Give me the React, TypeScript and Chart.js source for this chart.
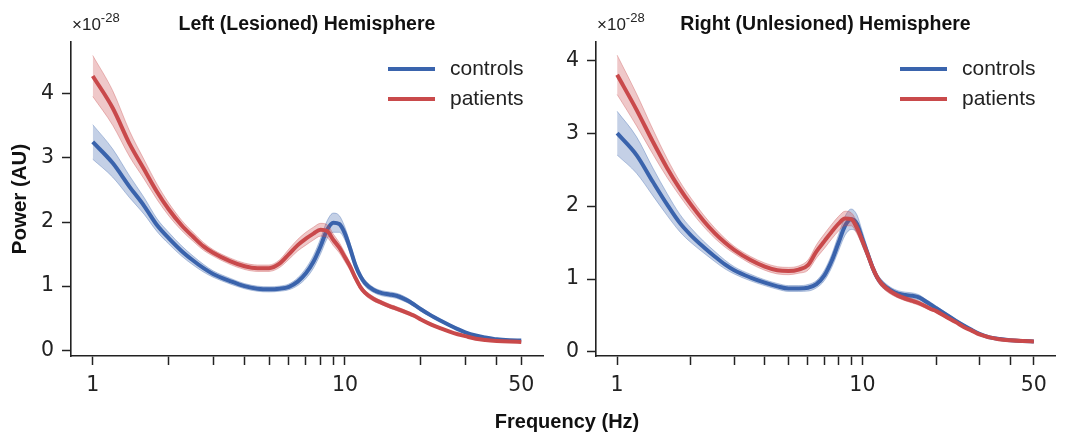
import React, { useEffect, useRef } from 'react';
import { Chart, registerables } from 'chart.js';

Chart.register(...registerables);

// ---------------- data ----------------
const FREQS = [1, 1.2, 1.4, 1.6, 1.8, 2, 2.25, 2.5, 2.75, 3, 3.5, 4, 4.5, 5, 5.5, 6, 6.5, 7, 7.5, 8, 8.5, 9, 9.5, 10, 10.5, 11, 11.5, 12, 13, 14, 15, 16, 17, 18, 19, 20, 22, 24, 26, 28, 30, 33, 36, 40, 45, 50];

const LEFT_CONTROLS = [3.25, 2.92, 2.55, 2.25, 1.95, 1.75, 1.55, 1.40, 1.28, 1.19, 1.08, 1.00, 0.96, 0.95, 0.96, 0.99, 1.07, 1.20, 1.38, 1.62, 1.88, 1.99, 1.97, 1.82, 1.58, 1.33, 1.16, 1.05, 0.94, 0.89, 0.87, 0.85, 0.81, 0.76, 0.70, 0.64, 0.54, 0.46, 0.39, 0.33, 0.28, 0.23, 0.20, 0.17, 0.155, 0.15];
const LEFT_CONTROLS_SEM = [0.27, 0.22, 0.17, 0.13, 0.10, 0.09, 0.08, 0.07, 0.06, 0.05, 0.045, 0.04, 0.04, 0.04, 0.04, 0.045, 0.06, 0.08, 0.10, 0.12, 0.14, 0.15, 0.13, 0.10, 0.08, 0.06, 0.05, 0.05, 0.04, 0.04, 0.04, 0.04, 0.04, 0.035, 0.03, 0.03, 0.025, 0.02, 0.02, 0.02, 0.015, 0.015, 0.01, 0.01, 0.01, 0.01];
const LEFT_PATIENTS = [4.28, 3.78, 3.22, 2.82, 2.47, 2.20, 1.95, 1.77, 1.62, 1.52, 1.39, 1.31, 1.28, 1.28, 1.35, 1.50, 1.64, 1.74, 1.82, 1.88, 1.86, 1.72, 1.60, 1.45, 1.30, 1.13, 0.99, 0.90, 0.80, 0.74, 0.69, 0.65, 0.61, 0.57, 0.53, 0.48, 0.40, 0.34, 0.29, 0.25, 0.22, 0.18, 0.16, 0.145, 0.135, 0.13];
const LEFT_PATIENTS_SEM = [0.32, 0.27, 0.20, 0.15, 0.12, 0.10, 0.08, 0.07, 0.06, 0.05, 0.05, 0.05, 0.05, 0.05, 0.06, 0.08, 0.09, 0.10, 0.10, 0.10, 0.10, 0.09, 0.08, 0.07, 0.06, 0.05, 0.04, 0.04, 0.035, 0.03, 0.03, 0.03, 0.03, 0.025, 0.02, 0.02, 0.02, 0.015, 0.015, 0.01, 0.01, 0.01, 0.01, 0.01, 0.01, 0.01];

const RIGHT_CONTROLS = [3.00, 2.70, 2.33, 2.02, 1.77, 1.60, 1.44, 1.31, 1.20, 1.12, 1.02, 0.95, 0.90, 0.87, 0.87, 0.88, 0.93, 1.05, 1.25, 1.50, 1.73, 1.82, 1.76, 1.55, 1.35, 1.16, 1.02, 0.94, 0.85, 0.80, 0.78, 0.77, 0.75, 0.70, 0.65, 0.60, 0.51, 0.43, 0.36, 0.30, 0.25, 0.20, 0.18, 0.16, 0.15, 0.145];
const RIGHT_CONTROLS_SEM = [0.30, 0.25, 0.19, 0.15, 0.12, 0.10, 0.08, 0.07, 0.06, 0.05, 0.045, 0.04, 0.04, 0.04, 0.04, 0.045, 0.05, 0.07, 0.09, 0.11, 0.13, 0.14, 0.12, 0.10, 0.07, 0.06, 0.05, 0.05, 0.04, 0.04, 0.04, 0.04, 0.035, 0.03, 0.03, 0.03, 0.025, 0.02, 0.02, 0.015, 0.015, 0.01, 0.01, 0.01, 0.01, 0.01];
const RIGHT_PATIENTS = [3.80, 3.32, 2.88, 2.52, 2.24, 2.02, 1.80, 1.63, 1.50, 1.40, 1.26, 1.17, 1.12, 1.11, 1.13, 1.19, 1.38, 1.52, 1.65, 1.76, 1.83, 1.82, 1.70, 1.52, 1.34, 1.16, 1.02, 0.93, 0.83, 0.77, 0.73, 0.70, 0.67, 0.63, 0.59, 0.56, 0.48, 0.41, 0.34, 0.29, 0.24, 0.20, 0.175, 0.16, 0.15, 0.145];
const RIGHT_PATIENTS_SEM = [0.27, 0.22, 0.17, 0.13, 0.10, 0.09, 0.08, 0.07, 0.06, 0.05, 0.05, 0.05, 0.05, 0.05, 0.05, 0.07, 0.09, 0.10, 0.10, 0.10, 0.10, 0.09, 0.08, 0.06, 0.05, 0.05, 0.04, 0.04, 0.035, 0.03, 0.03, 0.03, 0.03, 0.025, 0.02, 0.02, 0.02, 0.015, 0.015, 0.01, 0.01, 0.01, 0.01, 0.01, 0.01, 0.01];

const X_TICKS = [1, 2, 3, 4, 5, 6, 7, 8, 9, 10, 20, 30, 40, 50];
const X_TICK_LABELS = [1, 10, 50];
const Y_TICKS = [0, 1, 2, 3, 4];

const SERIES_NAMES = ['controls', 'patients'];
const LEFT_TITLE = 'Left (Lesioned) Hemisphere';
const RIGHT_TITLE = 'Right (Unlesioned) Hemisphere';
const X_LABEL = 'Frequency (Hz)';
const Y_LABEL = 'Power (AU)';
const EXPONENT = '-28';

// ---------------- styles ----------------
const BLUE = '#3a64ad';
const RED = '#c94a4b';
const BLUE_FILL = 'rgba(58,100,173,0.30)';
const RED_FILL = 'rgba(201,74,75,0.30)';
const BLUE_EDGE = 'rgba(58,100,173,0.35)';
const RED_EDGE = 'rgba(201,74,75,0.35)';
const INK = '#222222';
const W = 1065;
const H = 435;

function pts(arr: number[]) {
  return FREQS.map((f, i) => ({ x: f, y: arr[i] }));
}
function band(mean: number[], sem: number[], sign: number) {
  return FREQS.map((f, i) => ({ x: f, y: mean[i] + sign * sem[i] }));
}

function datasets(ctrl: number[], ctrlSem: number[], pat: number[], patSem: number[]) {
  const common = { pointRadius: 0, pointHoverRadius: 0, cubicInterpolationMode: 'monotone' as const };
  return [
    { label: 'c_up', data: band(ctrl, ctrlSem, 1), borderColor: BLUE_EDGE, borderWidth: 1, backgroundColor: BLUE_FILL, fill: '+1', order: 3, ...common },
    { label: 'c_lo', data: band(ctrl, ctrlSem, -1), borderColor: BLUE_EDGE, borderWidth: 1, fill: false, order: 3, ...common },
    { label: SERIES_NAMES[0], data: pts(ctrl), borderColor: BLUE, borderWidth: 4, fill: false, order: 4, ...common },
    { label: 'p_up', data: band(pat, patSem, 1), borderColor: RED_EDGE, borderWidth: 1, backgroundColor: RED_FILL, fill: '+1', order: 1, ...common },
    { label: 'p_lo', data: band(pat, patSem, -1), borderColor: RED_EDGE, borderWidth: 1, fill: false, order: 1, ...common },
    { label: SERIES_NAMES[1], data: pts(pat), borderColor: RED, borderWidth: 4, fill: false, order: 2, ...common },
  ];
}

type Panel = {
  title: string;
  yAxisWidth: number;
  padRight: number;
  yMin: number;
  yMax: number;
  drawYLabel: boolean;
  drawXLabel: boolean;
};

function decorPlugin(p: Panel) {
  return {
    id: 'decor',
    afterDraw(chart: any) {
      const { ctx, chartArea } = chart;
      const ca = chartArea;
      ctx.save();
      ctx.fillStyle = '#111';
      // title
      ctx.font = 'bold 19.5px "Liberation Sans", Arial, sans-serif';
      ctx.textAlign = 'center';
      ctx.textBaseline = 'alphabetic';
      ctx.fillText(p.title, (ca.left + ca.right) / 2, 30);
      // exponent
      ctx.textAlign = 'left';
      ctx.font = '17px "Liberation Sans", Arial, sans-serif';
      ctx.fillStyle = INK;
      const base = '\u00d710';
      ctx.fillText(base, ca.left + 1, 30);
      const bw = ctx.measureText(base).width;
      ctx.font = '13px "Liberation Sans", Arial, sans-serif';
      ctx.fillText(EXPONENT, ca.left + 1 + bw, 22);
      // legend
      const lx0 = ca.right - 155;
      const lx1 = ca.right - 108;
      const tx = ca.right - 93;
      const rows = [
        { name: SERIES_NAMES[0], color: BLUE, y: 69 },
        { name: SERIES_NAMES[1], color: RED, y: 99 },
      ];
      ctx.font = '21px "Liberation Sans", Arial, sans-serif';
      ctx.textBaseline = 'middle';
      for (const r of rows) {
        ctx.strokeStyle = r.color;
        ctx.lineWidth = 4;
        ctx.beginPath();
        ctx.moveTo(lx0, r.y);
        ctx.lineTo(lx1, r.y);
        ctx.stroke();
        ctx.fillStyle = INK;
        ctx.fillText(r.name, tx, r.y);
      }
      // axis labels
      ctx.fillStyle = '#111';
      if (p.drawXLabel) {
        ctx.font = 'bold 20px "Liberation Sans", Arial, sans-serif';
        ctx.textAlign = 'center';
        ctx.textBaseline = 'alphabetic';
        ctx.fillText(X_LABEL, 567, 428);
      }
      if (p.drawYLabel) {
        ctx.save();
        ctx.translate(20.5, (ca.top + ca.bottom) / 2);
        ctx.rotate(-Math.PI / 2);
        ctx.font = 'bold 20.5px "Liberation Sans", Arial, sans-serif';
        ctx.textAlign = 'center';
        ctx.textBaseline = 'middle';
        ctx.fillText(Y_LABEL, 0, 0);
        ctx.restore();
      }
      ctx.restore();
    },
  };
}

function makeConfig(p: Panel, data: any[]): any {
  const tickFont = { family: '"DejaVu Sans", sans-serif', size: 20.5 };
  return {
    type: 'line',
    data: { datasets: data },
    options: {
      animation: false,
      responsive: false,
      devicePixelRatio: 1,
      events: [],
      layout: { padding: { top: 42, right: p.padRight, bottom: 39, left: 0 } },
      plugins: { legend: { display: false }, tooltip: { enabled: false }, title: { display: false } },
      scales: {
        x: {
          type: 'logarithmic',
          min: 0.82,
          max: 61,
          afterBuildTicks: (axis: any) => {
            axis.ticks = X_TICKS.map((v) => ({ value: v }));
          },
          afterFit: (axis: any) => {
            axis.height = 40;
          },
          ticks: {
            autoSkip: false,
            maxRotation: 0,
            minRotation: 0,
            padding: 8,
            color: INK,
            font: tickFont,
            callback: (v: any) => (X_TICK_LABELS.includes(Number(v)) ? String(v) : ''),
          },
          grid: { display: true, drawOnChartArea: false, drawTicks: true, tickLength: 9, tickWidth: 1.5, color: INK },
          border: { display: true, color: INK, width: 1.6 },
        },
        y: {
          type: 'linear',
          min: p.yMin,
          max: p.yMax,
          afterBuildTicks: (axis: any) => {
            axis.ticks = Y_TICKS.map((v) => ({ value: v }));
          },
          afterFit: (axis: any) => {
            axis.width = p.yAxisWidth;
          },
          ticks: { padding: 8, color: INK, font: tickFont, callback: (v: any) => String(v) },
          grid: { display: true, drawOnChartArea: false, drawTicks: true, tickLength: 9, tickWidth: 1.5, color: INK },
          border: { display: true, color: INK, width: 1.6 },
        },
      },
    },
    plugins: [decorPlugin(p)],
  };
}

export default function App() {
  const leftRef = useRef<HTMLCanvasElement | null>(null);
  const rightRef = useRef<HTMLCanvasElement | null>(null);

  useEffect(() => {
    const leftPanel: Panel = { title: LEFT_TITLE, yAxisWidth: 71, padRight: W - 543, yMin: -0.09, yMax: 4.81, drawYLabel: true, drawXLabel: true };
    const rightPanel: Panel = { title: RIGHT_TITLE, yAxisWidth: 596, padRight: W - 1055, yMin: -0.055, yMax: 4.25, drawYLabel: false, drawXLabel: false };
    const c1 = new Chart(leftRef.current as HTMLCanvasElement, makeConfig(leftPanel, datasets(LEFT_CONTROLS, LEFT_CONTROLS_SEM, LEFT_PATIENTS, LEFT_PATIENTS_SEM)));
    const c2 = new Chart(rightRef.current as HTMLCanvasElement, makeConfig(rightPanel, datasets(RIGHT_CONTROLS, RIGHT_CONTROLS_SEM, RIGHT_PATIENTS, RIGHT_PATIENTS_SEM)));
    return () => {
      c1.destroy();
      c2.destroy();
    };
  }, []);

  const canvasStyle: React.CSSProperties = { position: 'absolute', left: 0, top: 0, width: W, height: H };
  return (
    <div style={{ position: 'fixed', left: 0, top: 0, width: W, height: H, background: '#ffffff' }}>
      <canvas ref={leftRef} width={W} height={H} style={canvasStyle} />
      <canvas ref={rightRef} width={W} height={H} style={canvasStyle} />
    </div>
  );
}
